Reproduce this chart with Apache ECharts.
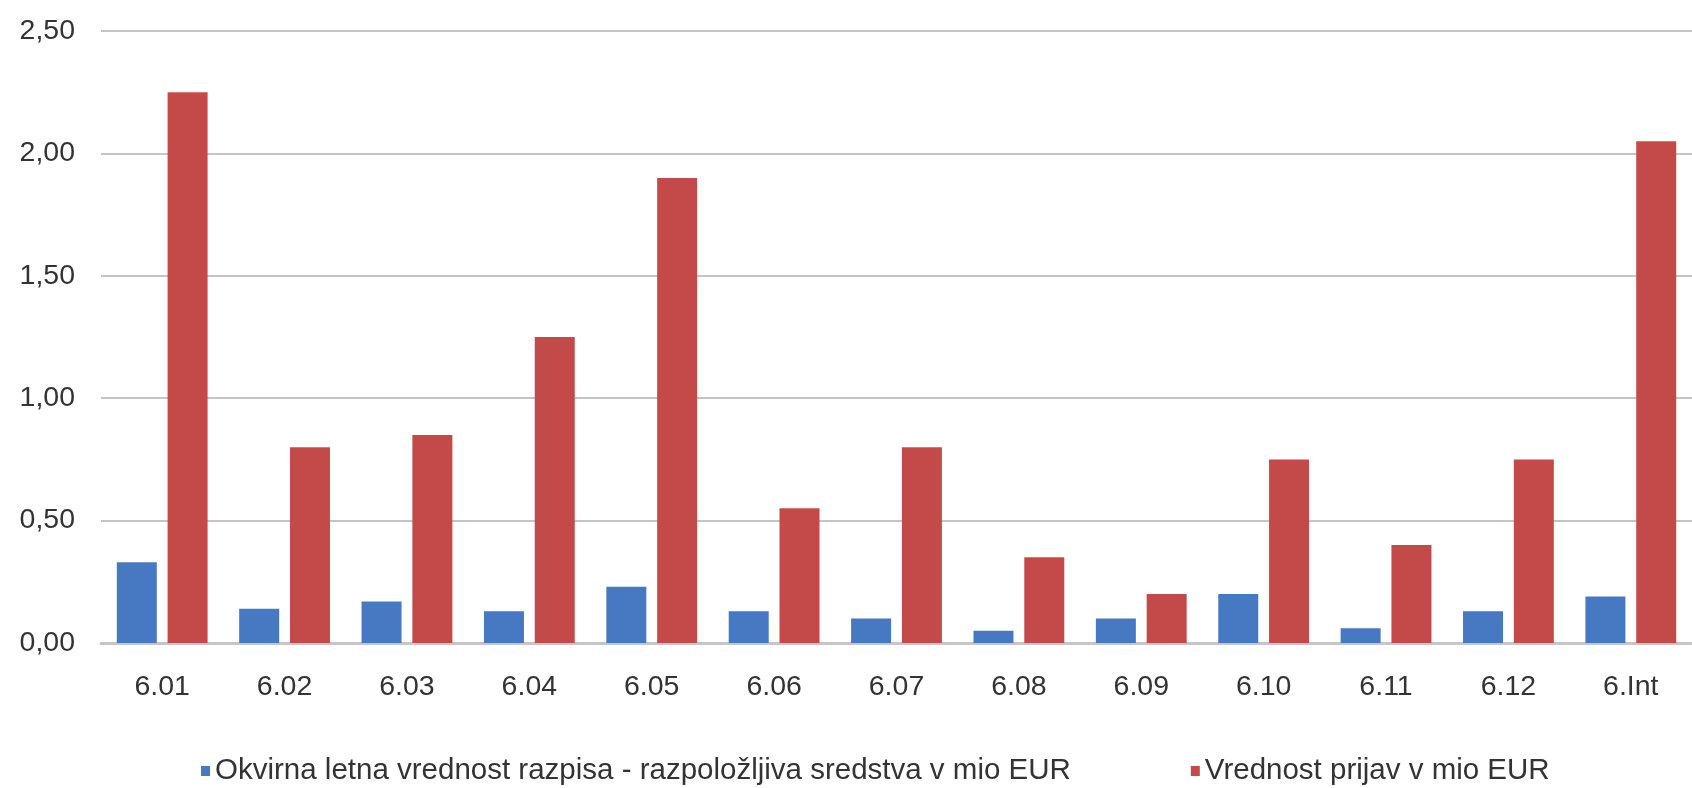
<!DOCTYPE html>
<html>
<head>
<meta charset="utf-8">
<script src="https://cdn.jsdelivr.net/npm/echarts@6/dist/echarts.min.js"></script>
<style>
html,body{margin:0;padding:0;background:#fff;}
#c{width:1692px;height:788px;}
</style>
</head>
<body>
<div id="c"></div>
<script>
const categories = ['6.01','6.02','6.03','6.04','6.05','6.06','6.07','6.08','6.09','6.10','6.11','6.12','6.Int'];
const seriesNames = ['Okvirna letna vrednost razpisa - razpoložljiva sredstva v mio EUR','Vrednost prijav v mio EUR'];
const availableFunds = [0.33,0.14,0.17,0.13,0.23,0.13,0.10,0.05,0.10,0.20,0.06,0.13,0.19];
const applicationsValue = [2.25,0.80,0.85,1.25,1.90,0.55,0.80,0.35,0.20,0.75,0.40,0.75,2.05];
const yTicks = {min:0, max:2.5, interval:0.5};

const chart = echarts.init(document.getElementById('c'), null, {renderer:'canvas'});
const font = '"Liberation Sans", Arial, sans-serif';
chart.setOption({
  animation:false,
  backgroundColor:'#fff',
  grid:{left:101, right:-4, top:31, bottom:145, containLabel:false},
  legend:{
    data:seriesNames,
    left:201, top:756, padding:0,
    itemWidth:9, itemHeight:10, itemGap:120,
    icon:'rect',
    textStyle:{fontFamily:font, fontSize:29.5, color:'#333'}
  },
  xAxis:{
    type:'category',
    data:categories,
    axisTick:{show:false},
    axisLine:{lineStyle:{color:'#c6c6c6', width:3}},
    axisLabel:{fontFamily:font, fontSize:28.5, color:'#333', margin:30}
  },
  yAxis:{
    type:'value',
    min:yTicks.min, max:yTicks.max, interval:yTicks.interval,
    axisLine:{show:false},
    axisTick:{show:false},
    splitLine:{lineStyle:{color:'#c4c4c4', width:2}},
    axisLabel:{fontFamily:font, fontSize:28.5, color:'#333', margin:26,
      formatter:v=>v.toFixed(2).replace('.',',')}
  },
  series:[
    {name:seriesNames[0], type:'bar', data:availableFunds, barWidth:40, barGap:'27%',
     itemStyle:{color:'#4679c2'}},
    {name:seriesNames[1], type:'bar', data:applicationsValue, barWidth:40, barGap:'27%',
     itemStyle:{color:'#c44a4a'}}
  ]
});
</script>
</body>
</html>
